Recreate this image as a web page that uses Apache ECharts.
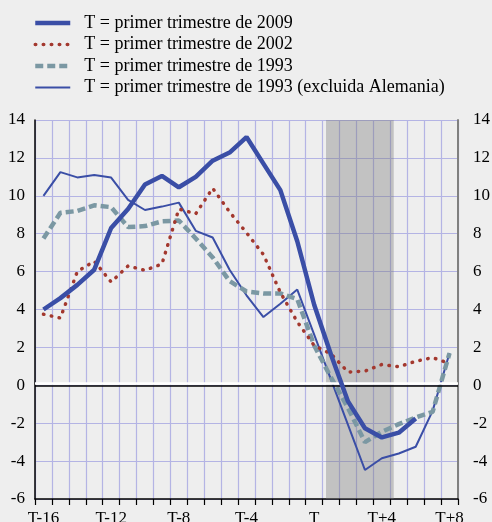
<!DOCTYPE html>
<html>
<head>
<meta charset="utf-8">
<script src="https://cdn.jsdelivr.net/npm/echarts@6/dist/echarts.min.js"></script>
<style>
html,body{margin:0;padding:0;background:#eeeeee;}
#chart{width:492px;height:522px;}
</style>
</head>
<body>
<div id="chart"></div>
<script>
const categories = ['T-16','T-15','T-14','T-13','T-12','T-11','T-10','T-9','T-8','T-7','T-6','T-5','T-4','T-3','T-2','T-1','T','T+1','T+2','T+3','T+4','T+5','T+6','T+7','T+8'];
const seriesNames = ['T = primer trimestre de 2009','T = primer trimestre de 2002','T = primer trimestre de 1993','T = primer trimestre de 1993 (excluida Alemania)'];
const s2009 = [4.0, 4.6, 5.3, 6.1, 8.3, 9.3, 10.6, 11.05, 10.45, 11.0, 11.85, 12.28, 13.1, 11.7, 10.3, 7.6, 4.25, 1.6, -0.85, -2.27, -2.75, -2.5, -1.75, null, null];
const s2002 = [3.75, 3.55, 6.0, 6.55, 5.45, 6.3, 6.07, 6.4, 9.3, 9.05, 10.4, 9.15, 8.05, 6.9, 4.9, 3.35, 2.1, 1.65, 0.7, 0.75, 1.1, 0.98, 1.27, 1.46, 1.15];
const s1993 = [7.75, 9.1, 9.2, 9.5, 9.4, 8.35, 8.4, 8.65, 8.7, 7.75, 6.75, 5.5, 4.95, 4.85, 4.85, 4.55, 2.1, 0.4, -1.2, -3.0, -2.45, -2.05, -1.7, -1.4, 1.7];
const s1993exDE = [10.0, 11.25, 10.97, 11.1, 10.96, 9.78, 9.25, 9.43, 9.64, 8.15, 7.8, 6.1, 4.75, 3.6, 4.3, 5.05, 2.67, 0.29, -2.09, -4.47, -3.85, -3.6, -3.24, -1.35, 1.7];
const recessionBand = [16.7, 20.7];
const yTicks = {min: -6, max: 14, interval: 2};

const FONT = 'Liberation Serif';
const BLUE = '#3a4ea6';
const RED = '#a3382e';
const GREYBLUE = '#7b98a3';
const GRID = '#b4b4e4';

const styles = [
  {color: BLUE, width: 4.5, type: 'solid'},
  {color: RED, width: 3.5, type: [0.5, 7.5], cap: 'round'},
  {color: GREYBLUE, width: 4.5, type: [8, 4]},
  {color: BLUE, width: 2, type: 'solid'}
];

const chart = echarts.init(document.getElementById('chart'), null, {renderer: 'canvas'});
const option = {
  backgroundColor: '#eeeeee',
  animation: false,
  textStyle: {fontFamily: FONT, color: '#000'},
  legend: {
    orient: 'vertical', left: 33, top: 14, padding: 0,
    itemWidth: 35, itemHeight: 14, itemGap: 3.5,
    itemStyle: {opacity: 0},
    textStyle: {fontFamily: FONT, fontSize: 18, color: '#000', lineHeight: 18, padding: [0,0,0,9]},
    data: seriesNames.map((n, k) => ({name: n, lineStyle: {width: styles[k].width, color: styles[k].color, type: styles[k].type, cap: styles[k].cap || 'butt'}})),
    selectedMode: false
  },
  grid: {left: 35, right: 34, top: 120, bottom: 23, containLabel: false, outerBoundsMode: 'none'},
  xAxis: [{
    type: 'category', data: categories, boundaryGap: true,
    axisLine: {show: true, onZero: false, lineStyle: {color: '#000', width: 1.5}},
    axisTick: {show: true, interval: 0, length: 6, lineStyle: {color: '#000', width: 1.2}},
    axisLabel: {interval: 3, fontFamily: FONT, fontSize: 17, color: '#000', margin: 11},
    splitLine: {show: true, interval: 0, lineStyle: {color: GRID, width: 1.2}}
  }, {
    type: 'value', min: -0.5, max: 24.5, show: false,
    axisLine: {onZero: false}
  }],
  yAxis: [{
    type: 'value', min: yTicks.min, max: yTicks.max, interval: yTicks.interval, position: 'left',
    axisLine: {show: true, onZero: false, lineStyle: {color: '#000', width: 1.5}},
    axisTick: {show: false},
    axisLabel: {fontFamily: FONT, fontSize: 17, color: '#000', margin: 10},
    splitLine: {show: true, lineStyle: {color: GRID, width: 1.2}}
  }, {
    type: 'value', min: yTicks.min, max: yTicks.max, interval: yTicks.interval, position: 'right',
    axisLine: {show: true, onZero: false, lineStyle: {color: '#808080', width: 2}},
    axisTick: {show: false},
    axisLabel: {fontFamily: FONT, fontSize: 17, color: '#000', margin: 15, align: 'left'},
    splitLine: {show: false}
  }],
  series: [
    {
      type: 'line', xAxisIndex: 1, yAxisIndex: 0, data: [], z: 1, silent: true,
      markArea: {silent: true, itemStyle: {color: 'rgba(120,120,120,0.37)'},
        data: [[{xAxis: recessionBand[0], yAxis: yTicks.max}, {xAxis: recessionBand[1], yAxis: yTicks.min}]]}
    },
    {
      type: 'line', xAxisIndex: 0, yAxisIndex: 0, data: [], z: 2, silent: true,
      markLine: {silent: true, symbol: 'none', label: {show: false},
        data: [
          {yAxis: 0.1, lineStyle: {color: '#ffffff', width: 2.5, type: 'solid'}},
          {yAxis: -0.03, lineStyle: {color: '#000000', width: 1.5, type: 'solid'}}
        ]}
    },
    {
      name: seriesNames[3], type: 'line', data: s1993exDE, symbol: 'none', z: 3,
      lineStyle: styles[3], itemStyle: {color: styles[3].color}
    },
    {
      name: seriesNames[2], type: 'line', data: s1993, symbol: 'none', z: 4,
      lineStyle: styles[2], itemStyle: {color: styles[2].color}
    },
    {
      name: seriesNames[1], type: 'line', data: s2002, symbol: 'none', z: 5,
      lineStyle: styles[1], itemStyle: {color: styles[1].color}
    },
    {
      name: seriesNames[0], type: 'line', data: s2009, symbol: 'none', z: 6,
      lineStyle: styles[0], itemStyle: {color: styles[0].color}
    }
  ]
};
chart.setOption(option);
</script>
</body>
</html>
